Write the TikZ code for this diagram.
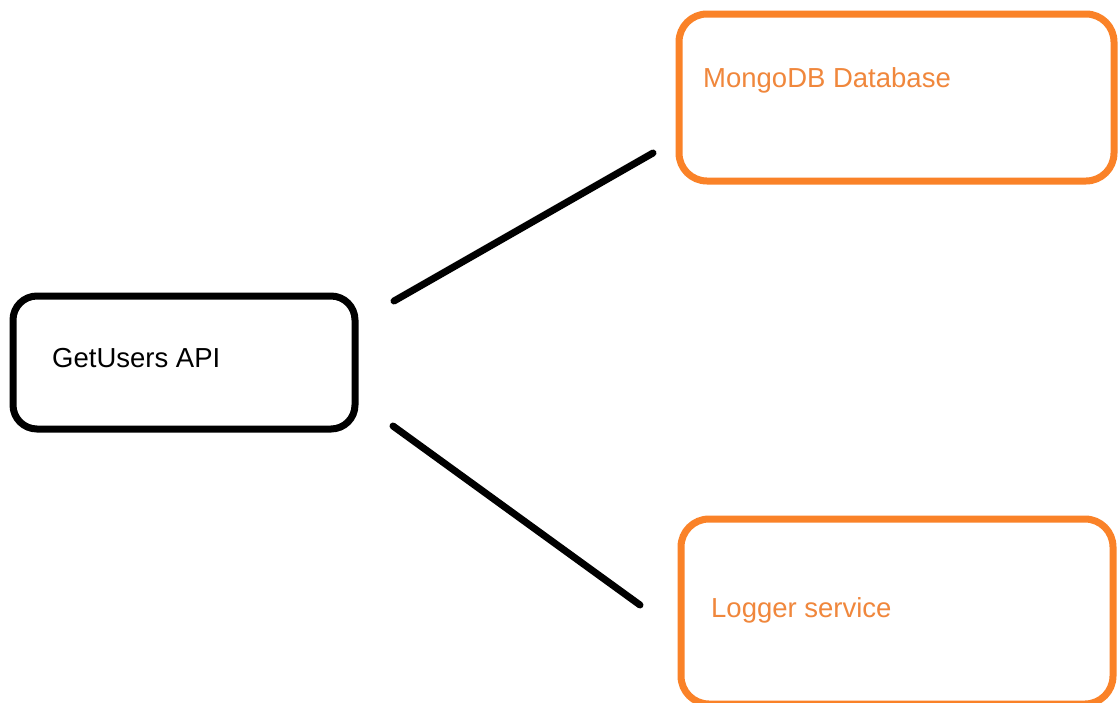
\documentclass[tikz,border=0pt]{standalone}
\usepackage{fontspec}
\setmainfont{Liberation Sans}
\definecolor{boxorange}{RGB}{250,130,40}
\definecolor{txtorange}{RGB}{240,135,60}
\begin{document}
\begin{tikzpicture}[x=1pt,y=-1pt,
  blackbox/.style={draw=black,line width=7pt,rounded corners=24pt,inner sep=0pt,minimum width=342pt,minimum height=133pt},
  orangebox/.style={draw=boxorange,line width=7pt,rounded corners=28pt,inner sep=0pt},
  lbl/.style={anchor=base west,inner sep=0pt,font=\fontsize{27.5}{33}\selectfont},
  conn/.style={line width=7pt,line cap=round}]
\useasboundingbox[fill=white] (0,0) rectangle (1119,702);
\node[blackbox] (api) at (184,362.5) {};
\node[orangebox,minimum width=435pt,minimum height=167pt] (mongo) at (896.5,97.5) {};
\node[orangebox,minimum width=432pt,minimum height=185pt] (logger) at (897,611.5) {};
\node[lbl,text=black] (apit) at (52,367) {GetUsers API};
\node[lbl,text=txtorange] (mongot) at (703,87) {MongoDB Database};
\node[lbl,text=txtorange] (loggert) at (711,617) {Logger service};
\coordinate (a1) at (394,301);
\coordinate (b1) at (653,153);
\coordinate (a2) at (393,426);
\coordinate (b2) at (640,605);
\draw[conn] (a1) -- (b1);
\draw[conn] (a2) -- (b2);
\end{tikzpicture}
\end{document}
